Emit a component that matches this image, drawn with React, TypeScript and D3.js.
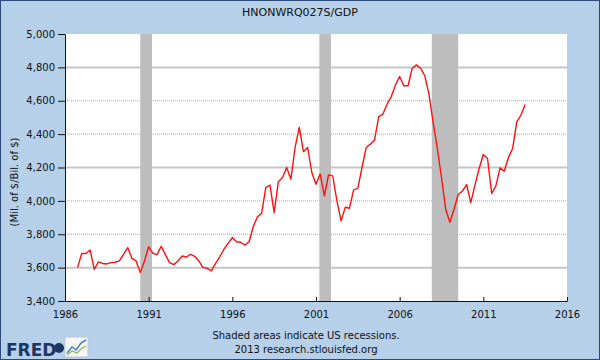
import React, { useEffect, useRef } from 'react';
import * as d3 from 'd3';

// quarterly series, first point 1986 Q4
const startYear = 1986.75;
const ratio = [
  3600, 3685, 3685, 3705, 3590, 3635, 3625, 3622, 3630, 3632, 3640, 3680, 3720, 3655, 3640, 3570,
  3640, 3725, 3685, 3678, 3728, 3678, 3630, 3618, 3640, 3670, 3662, 3680, 3668, 3640, 3600, 3596,
  3580, 3625, 3665, 3710, 3745, 3780, 3755, 3752, 3735, 3755, 3845, 3905, 3925, 4080, 4095, 3930,
  4115, 4140, 4200, 4130, 4320, 4440, 4295, 4320, 4170, 4100, 4162, 4030, 4156, 4150, 4000, 3880,
  3962, 3956, 4066, 4075, 4200, 4320, 4340, 4365, 4505, 4520, 4580, 4625, 4695, 4745, 4690, 4690,
  4795, 4815, 4795, 4750, 4640, 4470, 4316, 4140, 3950, 3872, 3950, 4040, 4058, 4098, 3990, 4094,
  4194, 4278, 4254, 4044, 4090, 4198, 4178, 4258, 4314, 4474, 4514, 4578,
];

const recessions = [
  [1990.5, 1991.2],
  [2001.2, 2001.9],
  [2007.92, 2009.5],
];

const xTicks = [1986, 1991, 1996, 2001, 2006, 2011, 2016];
const yTicks = [3400, 3600, 3800, 4000, 4200, 4400, 4600, 4800, 5000];
const solidGrid = [3600, 4200, 4800];

const W = 600;
const H = 360;
const margin = { left: 65, right: 33, top: 34, bottom: 59 };
const font = "'DejaVu Sans', Verdana, sans-serif";

const App = () => {
  const myRef = useRef(null);

  useEffect(() => {
    const innerWidth = W - margin.left - margin.right;
    const innerHeight = H - margin.top - margin.bottom;
    const svgRef = d3.select(myRef.current);
    svgRef.selectAll('*').remove();

    const points = ratio.map((v, i) => ({ date: startYear + i * 0.25, value: v }));

    const xScale = d3.scaleLinear().domain([1986, 2016]).range([0, innerWidth]);
    const yScale = d3.scaleLinear().domain([3400, 5000]).range([innerHeight, 0]);

    // page background + frame
    svgRef.append('rect')
      .attr('x', 0.5).attr('y', 0.5)
      .attr('width', W - 1).attr('height', H - 1)
      .attr('fill', '#b6d0ea')
      .attr('stroke', '#2d4a78')
      .attr('stroke-width', 1);

    svgRef.append('text')
      .attr('x', W / 2).attr('y', 16)
      .attr('text-anchor', 'middle')
      .style('font-family', font).style('font-size', '11px')
      .attr('fill', '#111')
      .text('HNONWRQ027S/GDP');

    const svg = svgRef.append('g')
      .attr('transform', `translate(${margin.left}, ${margin.top})`);

    // plot area
    svg.append('rect')
      .attr('width', innerWidth).attr('height', innerHeight)
      .attr('fill', '#ffffff');

    // gridlines
    yTicks.filter(t => t !== 3400 && t !== 5000).forEach(t => {
      const solid = solidGrid.includes(t);
      svg.append('line')
        .attr('x1', 0).attr('x2', innerWidth)
        .attr('y1', yScale(t)).attr('y2', yScale(t))
        .attr('stroke', solid ? '#c6c6c6' : '#a8a8a8')
        .attr('stroke-width', solid ? 2 : 1)
        .attr('stroke-dasharray', solid ? null : '1,1');
    });

    // recession bars
    svg.selectAll('.rec')
      .data(recessions)
      .join('rect')
      .attr('x', d => xScale(d[0]))
      .attr('width', d => xScale(d[1]) - xScale(d[0]))
      .attr('y', 0).attr('height', innerHeight)
      .attr('fill', '#bdbdbd');

    // axes
    const xAxis = svg.append('g')
      .attr('transform', `translate(0, ${innerHeight})`)
      .call(d3.axisBottom(xScale).tickValues(xTicks).tickFormat(d3.format('d'))
        .tickSizeInner(-4).tickSizeOuter(0).tickPadding(10));
    const yAxis = svg.append('g')
      .call(d3.axisLeft(yScale).tickValues(yTicks).tickFormat(d3.format(','))
        .tickSizeInner(7).tickSizeOuter(0).tickPadding(3));

    [xAxis, yAxis].forEach(a => {
      a.selectAll('text').style('font-family', font).style('font-size', '10px').attr('fill', '#111');
      a.selectAll('line').attr('stroke', '#111');
      a.select('.domain').attr('stroke', '#111');
    });

    // the series
    const line = d3.line()
      .x(d => xScale(d.date))
      .y(d => yScale(d.value));

    svg.append('path')
      .datum(points)
      .attr('fill', 'none')
      .attr('stroke', '#ff1010')
      .attr('stroke-width', 1.4)
      .attr('stroke-linejoin', 'round')
      .attr('d', line);

    // y title
    svgRef.append('text')
      .attr('transform', `translate(18, 182) rotate(-90)`)
      .attr('text-anchor', 'middle')
      .style('font-family', font).style('font-size', '10px')
      .attr('fill', '#111')
      .text('(Mil. of $/Bil. of $)');

    // footer
    const foot = svgRef.append('g')
      .style('font-family', font).style('font-size', '10px')
      .attr('fill', '#111')
      .attr('text-anchor', 'middle');
    foot.append('text').attr('x', 306).attr('y', 339).text('Shaded areas indicate US recessions.');
    foot.append('text').attr('x', 306).attr('y', 353).text('2013 research.stlouisfed.org');

    // FRED logo
    const logo = svgRef.append('g');
    logo.append('text')
      .attr('x', 6).attr('y', 356)
      .style('font-family', font).style('font-size', '17px').style('font-weight', 'bold')
      .attr('fill', '#1c3666')
      .text('FRED');
    logo.append('circle').attr('cx', 59).attr('cy', 348).attr('r', 5).attr('fill', '#1c3666');
    logo.append('rect').attr('x', 65).attr('y', 337).attr('width', 23).attr('height', 20)
      .attr('fill', '#f4f6f8').attr('stroke', '#c0c8d0');
    logo.append('polyline')
      .attr('points', '67,353 72,347 76,350 81,343 86,340')
      .attr('fill', 'none').attr('stroke', '#4a7fc0').attr('stroke-width', 1.5);
    logo.append('polyline')
      .attr('points', '67,355 72,351 77,353 82,348 86,346')
      .attr('fill', 'none').attr('stroke', '#8cb84a').attr('stroke-width', 1.2);
  }, []);

  return (
    <div style={{ position: 'absolute', left: 0, top: 0 }}>
      <svg ref={myRef} width={W} height={H} style={{ display: 'block' }}></svg>
    </div>
  );
};

export default App;
